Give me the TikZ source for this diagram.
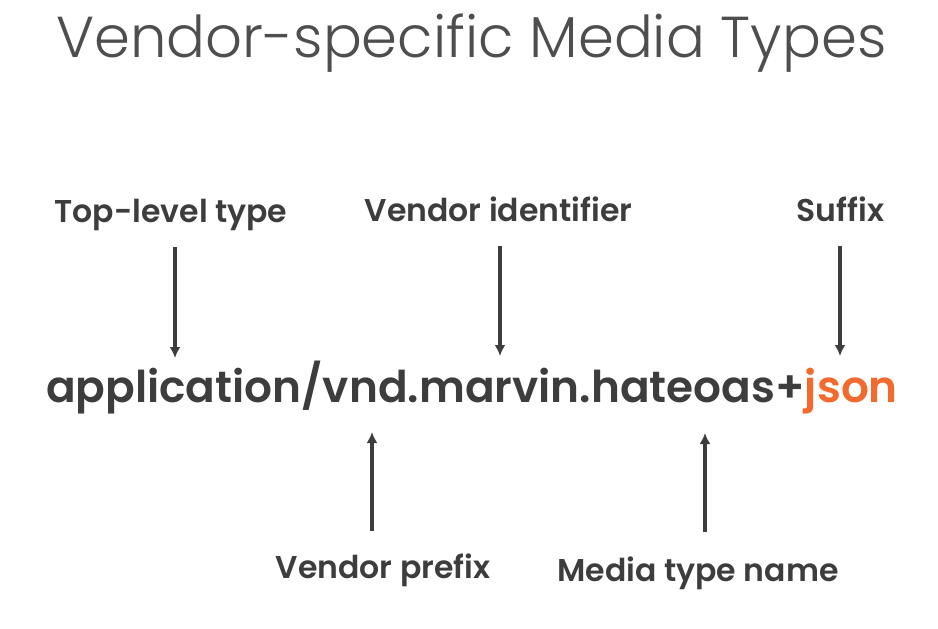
\documentclass[tikz,border=0pt]{standalone}
\usepackage{fontspec}
\usepackage{tikz}
\usetikzlibrary{arrows.meta}
\newfontfamily\titlefont{Poppins Light}
\newfontfamily\labelfont{Poppins SemiBold}
\newfontfamily\mimefont{Poppins SemiBold}
\definecolor{inkgray}{HTML}{3D3D3D}
\definecolor{titlegray}{HTML}{4E4E4E}
\definecolor{jsonorange}{HTML}{F26A2D}

\begin{document}
\begin{tikzpicture}[x=1pt, y=-1pt,
	every node/.style={inner sep=0pt, anchor=base, text=inkgray},
	lbl/.style={font=\labelfont\fontsize{31.5}{32}\selectfont},
	arr/.style={draw=inkgray, line width=3.2pt, -{Latex[length=11pt, width=11pt]}}]
				\useasboundingbox (0,0) rectangle (938,629);
				
				\node[text=titlegray, font=\titlefont\fontsize{57.7}{58}\selectfont] (title) at (471.5,57) {Vendor-specific Media Types};
				
				\node[font=\mimefont\fontsize{43.8}{44}\selectfont] (mime) at (472,402) {application/vnd.marvin.hateoas+\textcolor{jsonorange}{json}};
				
				\node[lbl] (t1) at (171,222) {Top-level type};
				\node[lbl] (t2) at (498.5,221) {Vendor identifier};
				\node[lbl] (t3) at (840.5,221) {Suffix};
				\node[lbl] (t4) at (383,578) {Vendor prefix};
				\node[lbl] (t5) at (698,581) {Media type name};
				
				\coordinate (a1) at (175,247);
				\coordinate (a2) at (500,246);
				\coordinate (a3) at (840,246);
				\coordinate (a4) at (372,531);
				\coordinate (a5) at (705,532);
				
				\coordinate (b1) at (175,358);
				\coordinate (b2) at (500,356);
				\coordinate (b3) at (840,356);
				\coordinate (b4) at (372,432);
				\coordinate (b5) at (705,433);
				
				\draw[arr] (a1) -- (b1);
				\draw[arr] (a2) -- (b2);
				\draw[arr] (a3) -- (b3);
				\draw[arr] (a4) -- (b4);
				\draw[arr] (a5) -- (b5);
				\end{tikzpicture}
\end{document}
